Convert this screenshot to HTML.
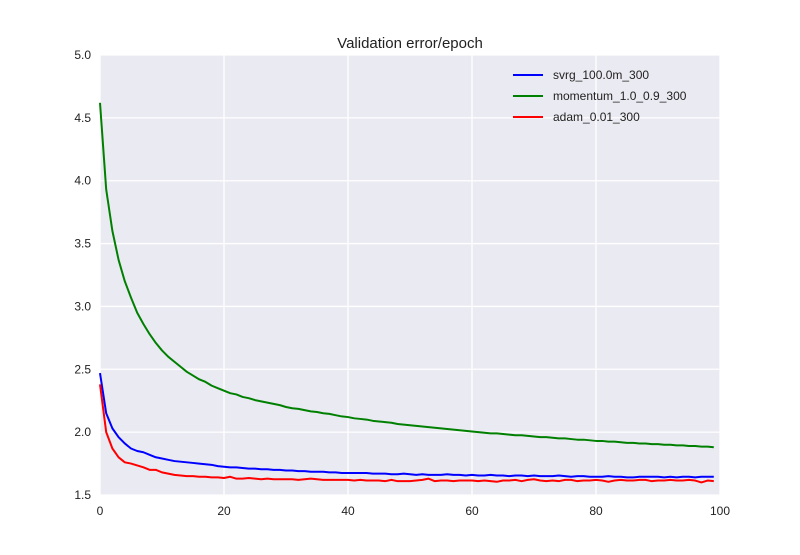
<!DOCTYPE html>
<html><head><meta charset="utf-8"><style>
body{margin:0;background:#fff;font-family:"Liberation Sans",sans-serif}
svg text{font-family:"Liberation Sans",sans-serif}
</style></head><body>
<svg id="chart" width="800" height="550">
<rect x="100" y="55" width="620" height="440" fill="#eaeaf2"/>
<g id="grid"></g><g id="ticks"></g><g id="lines"></g>
<text x="410" y="48" text-anchor="middle" font-size="15" fill="#222">Validation error/epoch</text>
<g id="legend"></g>
</svg>
<script>
const xTicks=[0,20,40,60,80,100];
const yTicks=[1.5,2.0,2.5,3.0,3.5,4.0,4.5,5.0];
const seriesNames=["svrg_100.0m_300","momentum_1.0_0.9_300","adam_0.01_300"];
const seriesColors=["#0000ff","#008000","#ff0000"];
const svrg=[2.47,2.15,2.03,1.96,1.91,1.87,1.85,1.84,1.82,1.8,1.79,1.78,1.77,1.765,1.76,1.755,1.75,1.745,1.74,1.73,1.725,1.72,1.72,1.715,1.71,1.71,1.705,1.705,1.7,1.7,1.695,1.695,1.69,1.69,1.685,1.685,1.685,1.68,1.68,1.675,1.675,1.675,1.675,1.675,1.67,1.67,1.67,1.665,1.665,1.67,1.665,1.66,1.665,1.66,1.66,1.66,1.665,1.66,1.66,1.655,1.66,1.655,1.655,1.66,1.655,1.655,1.65,1.655,1.655,1.65,1.655,1.65,1.65,1.65,1.655,1.65,1.645,1.65,1.65,1.645,1.645,1.645,1.65,1.645,1.645,1.64,1.64,1.645,1.645,1.645,1.645,1.64,1.645,1.64,1.645,1.645,1.64,1.645,1.645,1.645];
const momentum=[4.62,3.93,3.6,3.37,3.2,3.07,2.95,2.86,2.78,2.71,2.65,2.6,2.56,2.52,2.48,2.45,2.42,2.4,2.37,2.35,2.33,2.31,2.3,2.28,2.27,2.255,2.245,2.235,2.225,2.215,2.2,2.19,2.185,2.175,2.165,2.16,2.15,2.145,2.135,2.125,2.12,2.11,2.105,2.1,2.09,2.085,2.08,2.075,2.065,2.06,2.055,2.05,2.045,2.04,2.035,2.03,2.025,2.02,2.015,2.01,2.005,2.0,1.995,1.99,1.99,1.985,1.98,1.975,1.975,1.97,1.965,1.96,1.96,1.955,1.95,1.95,1.945,1.94,1.94,1.935,1.93,1.93,1.925,1.925,1.92,1.915,1.915,1.91,1.91,1.905,1.905,1.9,1.9,1.895,1.895,1.89,1.89,1.885,1.885,1.88];
const adam=[2.38,2.0,1.87,1.8,1.76,1.75,1.735,1.72,1.7,1.7,1.68,1.67,1.66,1.655,1.65,1.65,1.645,1.645,1.64,1.64,1.635,1.645,1.63,1.63,1.635,1.63,1.625,1.63,1.625,1.625,1.625,1.625,1.62,1.625,1.63,1.625,1.62,1.62,1.62,1.62,1.62,1.615,1.62,1.615,1.615,1.615,1.61,1.62,1.61,1.61,1.61,1.615,1.62,1.63,1.61,1.615,1.615,1.61,1.615,1.615,1.615,1.61,1.615,1.61,1.605,1.615,1.615,1.62,1.61,1.62,1.625,1.615,1.61,1.615,1.61,1.62,1.62,1.61,1.615,1.615,1.62,1.615,1.605,1.615,1.62,1.615,1.615,1.62,1.62,1.61,1.615,1.615,1.62,1.615,1.615,1.62,1.615,1.6,1.615,1.61];
const NS="http://www.w3.org/2000/svg";
const X0=100,X1=720,Y0=495,Y1=55;
function sx(v){return X0+(v-0)/(100-0)*(X1-X0);}
function sy(v){return Y0-(v-1.5)/(5.0-1.5)*(Y0-Y1);}
function mk(tag,attrs,parent){const e=document.createElementNS(NS,tag);for(const k in attrs)e.setAttribute(k,attrs[k]);parent.appendChild(e);return e;}
const grid=document.getElementById('grid'),ticks=document.getElementById('ticks'),lines=document.getElementById('lines'),legend=document.getElementById('legend');
xTicks.forEach(t=>{
 const l=mk('line',{x1:sx(t),x2:sx(t),y1:Y1,y2:Y0,stroke:'#fff','stroke-width':1.3},grid);
 
 
 const tx=mk('text',{x:sx(t),y:Y0+20,'text-anchor':'middle','font-size':12,fill:'#222'},ticks);
 tx.textContent=t;
 
 
});
yTicks.forEach(t=>{
 const l=mk('line',{x1:X0,x2:X1,y1:sy(t),y2:sy(t),stroke:'#fff','stroke-width':1.3},grid);
 
 
 const tx=mk('text',{x:X0-9,y:sy(t)+4,'text-anchor':'end','font-size':12,fill:'#222'},ticks);
 tx.textContent=t.toFixed(1);
 
 
});
[svrg,momentum,adam].forEach((arr,i)=>{
 const d=arr.map((v,j)=>(j?'L':'M')+sx(j).toFixed(2)+' '+sy(v).toFixed(2)).join(' ');
 const p=mk('path',{d:d,fill:'none',stroke:seriesColors[i],'stroke-width':2,'stroke-linejoin':'round'},lines);
 
 
});
seriesNames.forEach((n,i)=>{
 const y=75+i*21;
 const l=mk('line',{x1:513,x2:543,y1:y,y2:y,stroke:seriesColors[i],'stroke-width':2},legend);
 
 
 const t=mk('text',{x:553,y:y+4,'font-size':12,fill:'#222'},legend);
 t.textContent=n;
 
 
});
</script>
</body></html>
